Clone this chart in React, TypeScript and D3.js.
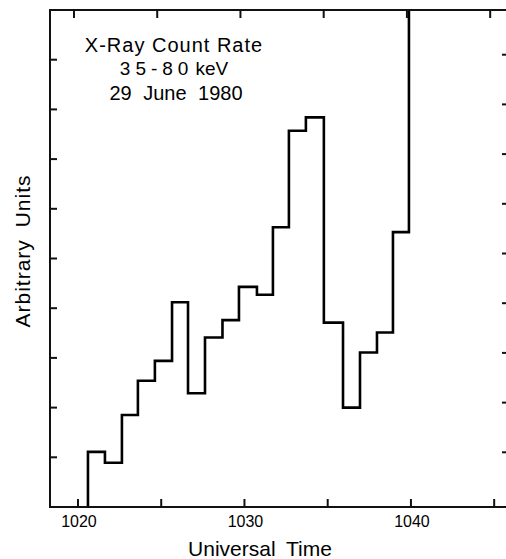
import React, { useEffect, useRef } from "react";
import * as d3 from "d3";

// bin start times (UT, hhmm read as minutes) and count rate (arbitrary units)
const binStarts = [
  1020.6, 1021.62, 1022.64, 1023.6, 1024.62, 1025.65, 1026.61, 1027.63,
  1028.68, 1029.67, 1030.75, 1031.71, 1032.67, 1033.69, 1034.77, 1035.92,
  1036.94, 1037.96, 1038.92, 1039.88,
];
const countRates = [
  1.11, 0.89, 1.85, 2.54, 2.94, 4.12, 2.29, 3.41, 3.76, 4.43, 4.27, 5.63,
  7.57, 7.84, 3.71, 2.0, 3.11, 3.51, 5.53, 12,
];
const xTicks = [1020, 1025, 1030, 1035, 1040, 1045];
const xTickLabels = ["1020", "", "1030", "", "1040", ""];
const yTicks = [1, 2, 3, 4, 5, 6, 7, 8, 9];
const titleLines = ["X-Ray Count Rate", "35-80 keV", "29 June 1980"];

const W = 506;
const H = 559;
const FONT = "'Liberation Sans', Arial, sans-serif";

const App = () => {
  const svgRef = useRef<SVGSVGElement | null>(null);
  const margin = { top: 10, right: 0, bottom: 52, left: 50 };

  useEffect(() => {
    const svg = d3.select(svgRef.current).attr("width", W).attr("height", H);
    svg.selectAll("*").remove();

    const left = margin.left;
    const right = W - margin.right;
    const top = margin.top;
    const bottom = H - margin.bottom;

    const x = d3.scaleLinear().domain([1018.32, 1045.71]).range([left, right]);
    const y = d3.scaleLinear().domain([0, 10]).range([bottom, top]);

    svg
      .append("defs")
      .append("clipPath")
      .attr("id", "plotClip")
      .append("rect")
      .attr("x", left)
      .attr("y", top)
      .attr("width", right - left)
      .attr("height", bottom - top);

    // histogram as a step line
    const pts: [number, number][] = [[binStarts[0], 0]];
    binStarts.forEach((t, i) => pts.push([t, countRates[i]]));
    pts.push([binStarts[binStarts.length - 1] + 1, countRates[countRates.length - 1]]);

    const line = d3
      .line<[number, number]>()
      .x((d) => x(d[0]))
      .y((d) => y(d[1]))
      .curve(d3.curveStepAfter);

    svg
      .append("path")
      .attr("d", line(pts))
      .attr("fill", "none")
      .attr("stroke", "#000")
      .attr("stroke-width", 2.6)
      .attr("stroke-linejoin", "miter")
      .attr("clip-path", "url(#plotClip)");

    // frame
    const axisColor = "#111";
    svg
      .append("path")
      .attr("d", `M${right + 2},${top} H${left} V${bottom} H${right + 2}`)
      .attr("fill", "none")
      .attr("stroke", axisColor)
      .attr("stroke-width", 2);

    // x ticks (bottom up, top down)
    xTicks.forEach((t) => {
      svg
        .append("line")
        .attr("x1", x(t))
        .attr("x2", x(t))
        .attr("y1", bottom)
        .attr("y2", bottom - 8)
        .attr("stroke", axisColor)
        .attr("stroke-width", 2);
      svg
        .append("line")
        .attr("x1", x(t) - 4)
        .attr("x2", x(t) - 4)
        .attr("y1", top)
        .attr("y2", top + 8)
        .attr("stroke", axisColor)
        .attr("stroke-width", 2);
    });

    // y ticks (left pointing in, right pointing in)
    yTicks.forEach((v) => {
      svg
        .append("line")
        .attr("x1", left)
        .attr("x2", left + 7)
        .attr("y1", y(v))
        .attr("y2", y(v))
        .attr("stroke", axisColor)
        .attr("stroke-width", 2);
      svg
        .append("line")
        .attr("x1", right)
        .attr("x2", right - 4)
        .attr("y1", y(v) - 5)
        .attr("y2", y(v) - 5)
        .attr("stroke", axisColor)
        .attr("stroke-width", 2);
    });

    // x tick labels
    xTicks.forEach((t, i) => {
      if (!xTickLabels[i]) return;
      svg
        .append("text")
        .attr("x", x(t) + 1)
        .attr("y", bottom + 20)
        .attr("text-anchor", "middle")
        .style("font-family", FONT)
        .style("font-size", "16px")
        .text(xTickLabels[i]);
    });

    // axis titles
    svg
      .append("text")
      .attr("x", 260)
      .attr("y", 556)
      .attr("text-anchor", "middle")
      .style("font-family", FONT)
      .style("font-size", "21px")
      .style("word-spacing", "5px")
      .text("Universal Time");

    svg
      .append("text")
      .attr("transform", "translate(30,251) rotate(-90)")
      .attr("text-anchor", "middle")
      .style("font-family", FONT)
      .style("font-size", "21px")
      .style("letter-spacing", "1px")
      .style("word-spacing", "5px")
      .text("Arbitrary Units");

    // annotation
    svg
      .append("text")
      .attr("x", 174)
      .attr("y", 52)
      .attr("text-anchor", "middle")
      .style("font-family", FONT)
      .style("font-size", "20px")
      .style("letter-spacing", "1px")
      .text(titleLines[0]);

    const l2 = svg
      .append("text")
      .attr("x", 174)
      .attr("y", 75)
      .attr("text-anchor", "middle")
      .style("font-family", FONT)
      .style("font-size", "19px");
    const [band, unit] = titleLines[1].split(" ");
    l2.append("tspan").style("letter-spacing", "5px").text(band);
    l2.append("tspan").attr("dx", 2).text(unit);

    svg
      .append("text")
      .attr("x", 176)
      .attr("y", 100)
      .attr("text-anchor", "middle")
      .style("font-family", FONT)
      .style("font-size", "20px")
      .style("word-spacing", "6px")
      .text(titleLines[2]);
  }, []);

  return (
    <svg
      ref={svgRef}
      style={{ position: "absolute", left: 0, top: 0, background: "#fff" }}
    ></svg>
  );
};

export default App;
